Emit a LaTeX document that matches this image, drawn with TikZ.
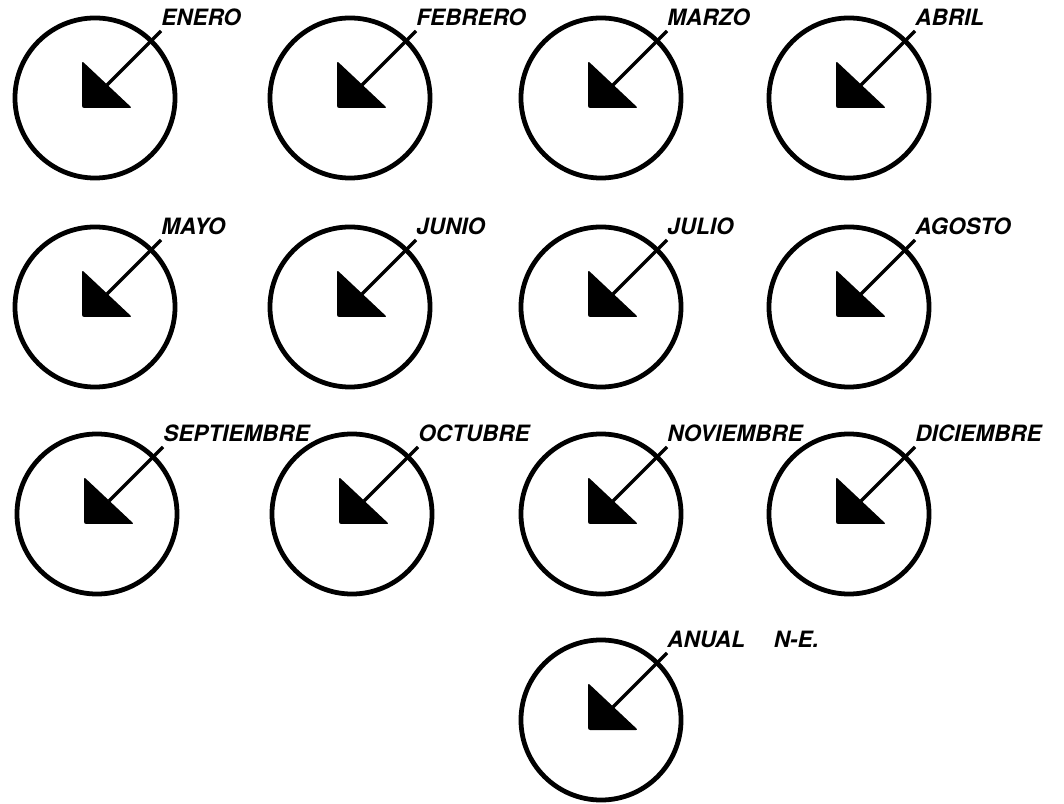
\documentclass[tikz,border=0pt]{standalone}
\usepackage{fontspec}
\setmainfont{TeX Gyre Heros}
\tikzset{
  rosa/.style={circle,draw,line width=3.4pt,minimum size=4.0cm,inner sep=0pt},
  flecha/.style={fill=black,rounded corners=1.5pt},
  astil/.style={line width=2.3pt},
  mes/.style={anchor=base west,inner sep=0pt,yshift=0.14cm,
    font=\fontsize{16}{18}\selectfont\bfseries\itshape}
}
\begin{document}
\begin{tikzpicture}[x=0.025cm,y=0.025cm]
    \useasboundingbox (0,0) rectangle (1064,803);
    % one wind rose per month, plus the yearly one
    \foreach \px/\py/\nm/\txt in {95/705/ene/ENERO, 350/705/feb/FEBRERO, 601/705/mar/MARZO, 849/705/abr/ABRIL,
        95/496/may/MAYO, 350/496/jun/JUNIO, 601/496/jul/JULIO, 849/496/ago/AGOSTO,
        97/289/sep/SEPTIEMBRE, 352/289/oct/OCTUBRE, 601/289/nov/NOVIEMBRE, 849/289/dic/DICIEMBRE,
        601/83/anu/{ANUAL\quad\ N-E.}} {
      \node[rosa] (\nm) at (\px,\py) {};
      \fill[flecha] ([shift={(-13,37)}]\nm.center) -- ([shift={(-13,-10)}]\nm.center)
        -- ([shift={(37,-10)}]\nm.center) -- cycle;
      \coordinate (\nm-base) at ([shift={(12,13)}]\nm.center);
      \coordinate (\nm-tip) at ([shift={(66,67)}]\nm.center);
      \draw[astil] (\nm-base) -- (\nm-tip);
      \node[mes] (\nm-lbl) at (\nm-tip) {\txt};
    }
  \end{tikzpicture}
\end{document}
